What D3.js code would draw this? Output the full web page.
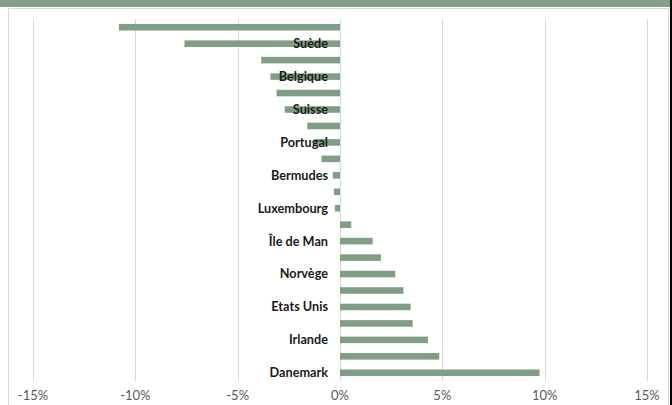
<!DOCTYPE html>
<html>
<head>
<meta charset="utf-8">
<script src="https://cdn.jsdelivr.net/npm/d3@7"></script>
<style>
  body { margin: 0; background: #fff; }
  svg { display: block; }
  .tick-label { font-family: Lato, "Open Sans", sans-serif; font-size: 13px; fill: #595959; }
  .cat-label { font-family: Lato, "Open Sans", sans-serif; font-size: 12.7px; font-weight: bold; fill: #1a1a1a; }
</style>
</head>
<body>
<div id="chart"></div>
<script>
// categories top to bottom; only every other one carries a visible label
let categories = ["", "Suède", "", "Belgique", "", "Suisse", "", "Portugal", "", "Bermudes", "",
  "Luxembourg", "", "Île de Man", "", "Norvège", "", "Etats Unis", "", "Irlande", "", "Danemark"];
let values = [-10.8, -7.6, -3.85, -3.4, -3.1, -2.7, -1.6, -1.3, -0.9, -0.35, -0.3,
  -0.25, 0.55, 1.6, 2.0, 2.7, 3.1, 3.45, 3.55, 4.3, 4.85, 9.75];
let ticks = [-15, -10, -5, 0, 5, 10, 15];

let width = 672,
    height = 405;
let green = "#7f9f84";

let svg = d3.select("#chart").append("svg")
    .attr("width", width)
    .attr("height", height);

// header band and frame
svg.append("rect")
    .attr("x", 0).attr("y", 0)
    .attr("width", 670).attr("height", 7)
    .attr("fill", "#82a186");
svg.append("rect")
    .attr("x", 8.5).attr("y", 8.5)
    .attr("width", 660).attr("height", 400)
    .attr("fill", "none")
    .attr("stroke", "#d9d9d9");
svg.append("rect")
    .attr("x", 670).attr("y", 0)
    .attr("width", 2).attr("height", height)
    .attr("fill", "#000");

let x = d3.scaleLinear()
    .domain([-15, 15])
    .range([33, 647]);

let y = d3.scaleBand()
    .domain(d3.range(values.length))
    .range([19, 381])
    .paddingInner(0.6)
    .paddingOuter(0.3);

// gridlines
svg.append("g")
    .selectAll("line")
    .data(ticks)
  .enter().append("line")
    .attr("x1", d => Math.round(x(d)) + 0.5)
    .attr("x2", d => Math.round(x(d)) + 0.5)
    .attr("y1", 19)
    .attr("y2", 381)
    .attr("stroke", "#d9d9d9")
    .attr("stroke-width", 1);

// bars
svg.append("g")
    .selectAll("rect")
    .data(values)
  .enter().append("rect")
    .attr("x", d => x(Math.min(0, d)))
    .attr("y", (d, i) => y(i))
    .attr("width", d => Math.abs(x(d) - x(0)))
    .attr("height", y.bandwidth())
    .attr("fill", green);

// category labels, right aligned next to the 0% line
svg.append("g")
    .selectAll("text")
    .data(categories)
  .enter().append("text")
    .attr("class", "cat-label")
    .attr("x", x(0) - 12)
    .attr("y", (d, i) => y(i) + y.bandwidth() / 2)
    .attr("dy", "0.35em")
    .attr("text-anchor", "end")
    .text(d => d);

// x tick labels
svg.append("g")
    .selectAll("text")
    .data(ticks)
  .enter().append("text")
    .attr("class", "tick-label")
    .attr("x", d => x(d))
    .attr("y", 395)
    .attr("dy", "0.35em")
    .attr("text-anchor", "middle")
    .text(d => d + "%");
</script>
</body>
</html>
